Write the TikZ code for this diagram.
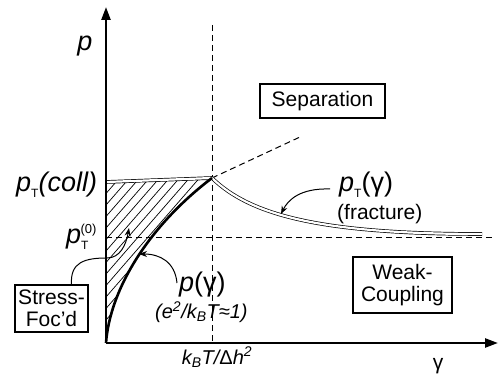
\documentclass[tikz,border=0pt]{standalone}
\usepackage{fontspec}
\setmainfont{Liberation Sans}
\usetikzlibrary{arrows.meta}
\newcommand\subT{\raisebox{-6pt}{\upshape\fontsize{12}{12}\selectfont T}}
\newcommand\supZ{\raisebox{10pt}{\upshape\fontsize{13}{13}\selectfont (0)}}
\begin{document}
\begin{tikzpicture}[x=1pt,y=-1pt,
  axis/.style={line width=2.4pt,-{Triangle[length=13pt,width=9pt]}},
  guide/.style={line width=1pt,dash pattern=on 6pt off 4pt},
  dbl/.style={double,line width=0.7pt,double distance=2.2pt},
  lbl/.style={inner sep=0pt,font=\fontsize{27}{29}\selectfont},
  small/.style={inner sep=0pt,font=\fontsize{21}{23}\selectfont},
  tight/.style={inner sep=0pt,font=\fontsize{20}{22}\selectfont},
  box/.style={draw,line width=1.1pt,inner sep=0pt,align=center,font=\fontsize{21}{22}\selectfont},
  pointer/.style={line width=1pt,-{Stealth[length=8pt,width=6pt]}}]
\useasboundingbox (0,0) rectangle (498,382);
\coordinate (O) at (106,343);
\coordinate (ytop) at (106,7);
\coordinate (xend) at (498,343);
\coordinate (K) at (212,178);
\coordinate (C0) at (106,182);
% hatch
\begin{scope}
  \clip (C0) -- (K) .. controls (150,225) and (110,288) .. (O) -- cycle;
  \foreach \i in {-300,-290,...,200}
    \draw[line width=0.7pt] (106+\i,343) -- ++(200,-230);
\end{scope}
% guides
\coordinate (vtop) at (212,25);
\coordinate (vbot) at (212,343);
\coordinate (hl) at (106,238);
\coordinate (hr) at (495,238);
\coordinate (ext) at (300,137);
\draw[guide] (vtop) -- (vbot);
\draw[guide] (hl) -- (hr);
\draw[guide] (K) -- (ext);
% curves
\draw[dbl] (C0) -- (K);
\coordinate (fend) at (482,234);
\draw[dbl] (K) .. controls (250,215) and (320,234) .. (fend);
\draw[line width=2.6pt] (O) .. controls (110,288) and (150,225) .. (K);
% axes
\draw[axis] (O) -- (ytop);
\draw[axis] (O) -- (xend);
% labels
\node[lbl] (p) at (85,46) {\itshape p};
\node[lbl,anchor=west] (pcoll) at (16,185) {\itshape p\subT(coll)};
\node[lbl,anchor=west] (p0) at (66,237) {\itshape p\subT\hspace{-8pt}\supZ};
\node[lbl,anchor=west] (pfr) at (339,185) {\itshape p\subT\upshape(γ)};
\node[small,anchor=west] (frac) at (337,214) {(fracture)};
\node[lbl,anchor=west] (pg) at (179,285) {\itshape p\upshape(γ)};
\node[tight,anchor=west] (cond) at (155,312) {\itshape (e\textsuperscript{2}/k\textsubscript{B}T≈1)};
\node[tight] (kt) at (217,357) {\itshape k\textsubscript{B}T/\upshape Δ\itshape h\textsuperscript{2}};
\node[small] (gam) at (438,366) {γ};
\node[box,minimum width=125pt,minimum height=34pt] (sep) at (322.5,101) {Separation};
\node[box,minimum width=99pt,minimum height=56pt] (weak) at (402.5,285) {Weak-\\Coupling};
\node[box,minimum width=73pt,minimum height=47pt] (stress) at (51.5,308.5) {Stress-\\Foc'd};
% pointers
\coordinate (pf) at (281,214);
\coordinate (pp) at (139,254);
\coordinate (ps) at (129,228);
\draw[pointer] (330,189) .. controls (300,188) and (288,200) .. (pf);
\draw[pointer] (177,283) .. controls (175,262) and (160,254) .. (pp);
\draw[pointer] (stress.north) ++(20,0) .. controls (70,262) and (85,258) .. (107,258) .. controls (120,258) and (126,245) .. (ps);
\end{tikzpicture}
\end{document}
